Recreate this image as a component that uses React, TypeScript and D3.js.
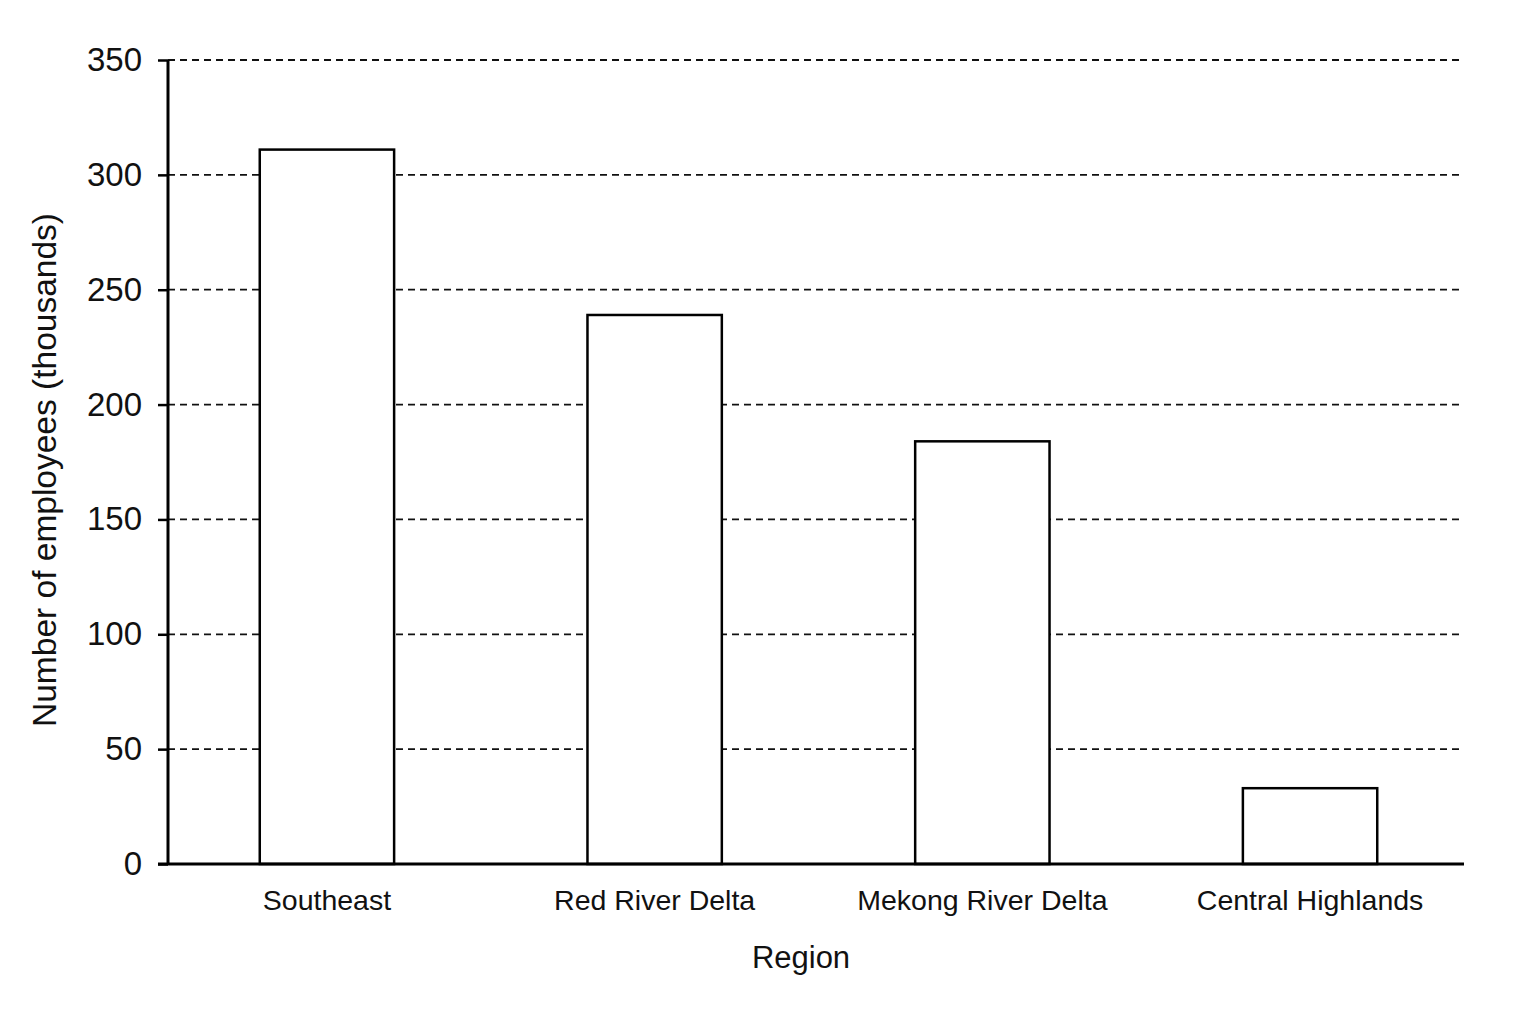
import { useEffect, useRef } from "react";
import * as d3 from "d3";

const regions = ["Southeast", "Red River Delta", "Mekong River Delta", "Central Highlands"];
const employees = [311, 239, 184, 33];
const yTicks = [0, 50, 100, 150, 200, 250, 300, 350];

const W = 1536;
const H = 1024;
const left = 168;
const right = 1464;
const top = 60;
const bottom = 864;
const font = "'Liberation Sans', Arial, sans-serif";

export default function App() {
  const svgRef = useRef<SVGSVGElement>(null);

  useEffect(() => {
    if (!svgRef.current) return;
    const svg = d3.select(svgRef.current);
    svg.selectAll("*").remove();

    const x = d3.scaleBand<string>()
      .domain(regions)
      .range([left, 1469])
      .paddingInner(0.59)
      .paddingOuter(0.28);
    const y = d3.scaleLinear().domain([0, 350]).range([bottom, top]);

    svg.append("rect").attr("width", W).attr("height", H).attr("fill", "#fff");

    // dashed gridlines behind the bars
    svg.append("g")
      .selectAll("line")
      .data(yTicks.filter((t) => t > 0))
      .enter()
      .append("line")
      .attr("x1", left)
      .attr("x2", 1462)
      .attr("y1", (d) => y(d))
      .attr("y2", (d) => y(d))
      .attr("stroke", "#111")
      .attr("stroke-width", 1.8)
      .attr("stroke-dasharray", "7,5");

    svg.append("g")
      .selectAll("rect")
      .data(regions)
      .enter()
      .append("rect")
      .attr("x", (d) => x(d)!)
      .attr("y", (_, i) => y(employees[i]))
      .attr("width", x.bandwidth())
      .attr("height", (_, i) => bottom - y(employees[i]))
      .attr("fill", "#fff")
      .attr("stroke", "#000")
      .attr("stroke-width", 2.5);

    const yAxis = svg.append("g")
      .attr("transform", `translate(${left},0)`)
      .call(d3.axisLeft(y).tickValues(yTicks).tickSize(10).tickPadding(16));
    yAxis.select(".domain").attr("stroke", "#000").attr("stroke-width", 3)
      .attr("d", `M0,${top}V${bottom}`);
    yAxis.selectAll(".tick line").attr("stroke", "#000").attr("stroke-width", 2.5);
    yAxis.selectAll(".tick text")
      .attr("font-family", font)
      .attr("font-size", 33)
      .attr("fill", "#111");

    const xAxis = svg.append("g")
      .attr("transform", `translate(0,${bottom})`)
      .call(d3.axisBottom(x).tickSize(0).tickPadding(26));
    xAxis.select(".domain").attr("stroke", "#000").attr("stroke-width", 3)
      .attr("d", `M${left - 10},0H${right}`);
    xAxis.selectAll(".tick text")
      .attr("font-family", font)
      .attr("font-size", 28.5)
      .attr("fill", "#111");

    svg.append("text")
      .attr("x", 801)
      .attr("y", 968)
      .attr("text-anchor", "middle")
      .attr("font-family", font)
      .attr("font-size", 31)
      .attr("fill", "#111")
      .text("Region");

    svg.append("text")
      .attr("transform", `translate(56,${(top + bottom) / 2 + 8}) rotate(-90)`)
      .attr("text-anchor", "middle")
      .attr("font-family", font)
      .attr("font-size", 33.5)
      .attr("fill", "#111")
      .text("Number of employees (thousands)");
  }, []);

  return (
    <div style={{ position: "absolute", left: 0, top: 0 }}>
      <svg ref={svgRef} width={W} height={H} style={{ display: "block" }} />
    </div>
  );
}
